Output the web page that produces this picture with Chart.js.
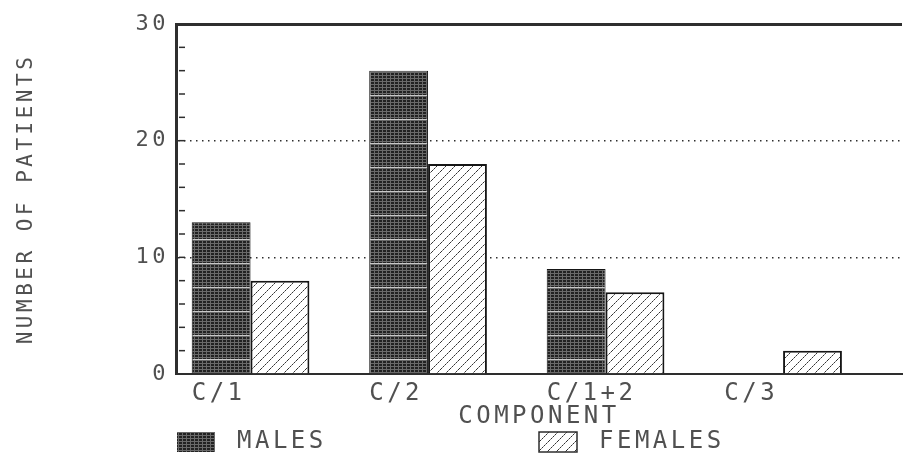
<!DOCTYPE html>
<html>
<head>
<meta charset="utf-8">
<script src="https://cdn.jsdelivr.net/npm/chart.js@4.4.1/dist/chart.umd.min.js"></script>
<style>
  html, body { margin: 0; padding: 0; background: #fff; }
  #chart { display: block; }
</style>
</head>
<body>
<canvas id="chart" width="903" height="454"></canvas>
<script>
"use strict"

//Values
const components = ["C/1", "C/2", "C/1+2", "C/3"];
const males = [13, 26, 9, 0];
const females = [8, 18, 7, 2];
const seriesNames = ["MALES", "FEMALES"];
const yTickLabels = [0, 10, 20, 30];

const ink = "#2e2e2e";
const textGray = "#505050";
const monoFont = "'DejaVu Sans Mono', 'Liberation Mono', monospace";
const spacing = "3.5px";
const groupShare = 0.663;

//Dark printer-style fill for the male bars
function malePattern() {
    const c = document.createElement("canvas");
    c.width = 4;
    c.height = 24;
    const g = c.getContext("2d");
    g.fillStyle = "#222";
    g.fillRect(0, 0, 4, 24);
    g.fillStyle = "#6a6a6a";
    for (let y = 0; y < 24; y += 3) {
        g.fillRect(0, y, 4, 1);
    }
    g.fillRect(2, 0, 1, 24);
    g.fillStyle = "#c8c8c8";
    g.fillRect(0, 23, 4, 1);
    return g.createPattern(c, "repeat");
}

//Diagonal hatching for the female bars
function femalePattern() {
    const c = document.createElement("canvas");
    c.width = 9;
    c.height = 9;
    const g = c.getContext("2d");
    g.fillStyle = "#fff";
    g.fillRect(0, 0, 9, 9);
    for (let i = 0; i < 9; i++) {
        g.fillStyle = i % 2 === 0 ? "#333" : "#888";
        g.fillRect(i, 8 - i, 1, 1);
    }
    return g.createPattern(c, "repeat");
}

//Minor ticks inside the axis, letter spacing and the spread-out legend
const decor = {
    id: "decor",
    beforeUpdate(chart) {
        chart.ctx.letterSpacing = spacing;
    },
    afterDraw(chart) {
        const {ctx, chartArea, scales} = chart;
        const y = scales.y;
        ctx.save();
        ctx.letterSpacing = spacing;
        ctx.strokeStyle = ink;
        ctx.lineWidth = 1.5;
        y.ticks.forEach(t => {
            if (t.value <= 0 || t.value >= 30) return;
            const py = y.getPixelForValue(t.value);
            ctx.beginPath();
            ctx.moveTo(chartArea.left + 3, py);
            ctx.lineTo(chartArea.left + 9, py);
            ctx.stroke();
        });

        const rowY = chart.height - 12;
        const starts = [chartArea.left + 1, (chartArea.left + chartArea.right) / 2];
        chart.data.datasets.forEach((ds, i) => {
            const bx = starts[i];
            ctx.fillStyle = ds.backgroundColor;
            ctx.fillRect(bx, rowY - 10, 38, 20);
            if (i === 1) {
                ctx.strokeStyle = ink;
                ctx.lineWidth = 1.5;
                ctx.strokeRect(bx, rowY - 10, 38, 20);
            }
            ctx.fillStyle = textGray;
            ctx.font = "24px " + monoFont;
            ctx.textBaseline = "middle";
            ctx.textAlign = "left";
            ctx.fillText(ds.label, bx + 60, rowY);
        });
        ctx.restore();
    }
};

const canvas = document.getElementById("chart");

new Chart(canvas, {
    type: "bar",
    data: {
        datasets: [{
            label: seriesNames[0],
            data: males.map((v, i) => ({x: i + 1, y: v})),
            backgroundColor: malePattern(),
            borderColor: "#151515",
            borderWidth: 1,
            barPercentage: 1,
            categoryPercentage: groupShare
        }, {
            label: seriesNames[1],
            data: females.map((v, i) => ({x: i + 1, y: v})),
            backgroundColor: femalePattern(),
            borderColor: "#151515",
            borderWidth: 2,
            barPercentage: 1,
            categoryPercentage: groupShare
        }]
    },
    options: {
        responsive: false,
        animation: false,
        layout: {
            padding: {left: 0, right: 1, top: 24, bottom: 23}
        },
        plugins: {
            legend: {display: false},
            tooltip: {enabled: false}
        },
        scales: {
            x: {
                type: "linear",
                offset: false,
                min: 0.58,
                max: 4.67,
                grid: {display: false},
                border: {display: true, color: ink, width: 2},
                afterBuildTicks: s => {
                    s.ticks = components.map((c, i) => ({value: i + 1 - groupShare / 2}));
                },
                ticks: {
                    autoSkip: false,
                    maxRotation: 0,
                    align: "start",
                    padding: -3,
                    color: textGray,
                    font: {family: monoFont, size: 24},
                    callback: (v, i) => components[i]
                },
                title: {
                    display: true,
                    text: "COMPONENT",
                    color: textGray,
                    font: {family: monoFont, size: 24},
                    padding: 0
                },
                afterFit: s => { s.height = 57; }
            },
            y: {
                min: 0,
                max: 30,
                grid: {
                    drawTicks: false,
                    color: c => c.tick && [10, 20, 30].includes(c.tick.value) ? ink : "transparent",
                    lineWidth: c => c.tick && c.tick.value === 30 ? 3 : 1.5
                },
                border: {
                    color: ink,
                    width: 3,
                    dash: c => c.tick && c.tick.value === 30 ? [] : [1.5, 4.5]
                },
                ticks: {
                    stepSize: 2,
                    autoSkip: false,
                    padding: 7,
                    color: textGray,
                    font: {family: monoFont, size: 22},
                    callback: v => yTickLabels.includes(v) ? v : ""
                },
                title: {
                    display: true,
                    text: "NUMBER OF PATIENTS",
                    color: textGray,
                    font: {family: monoFont, size: 21},
                    padding: {top: 14, bottom: 0}
                },
                afterFit: s => { s.width = 176; }
            }
        }
    },
    plugins: [decor]
});
</script>
</body>
</html>
